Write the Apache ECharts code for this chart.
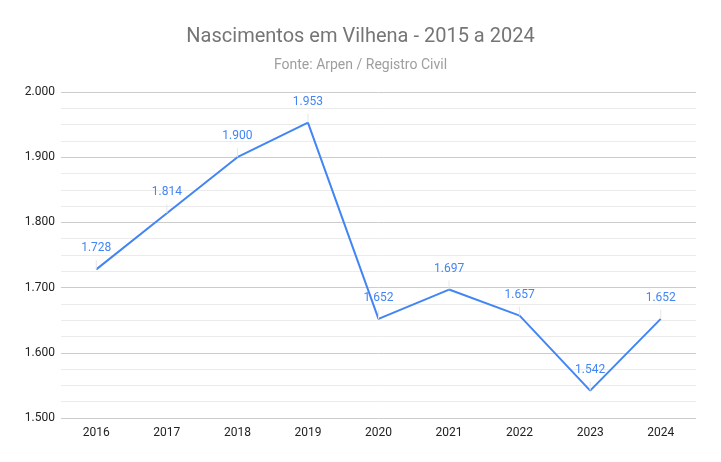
<!DOCTYPE html>
<html><head><meta charset="utf-8">
<script src="https://cdn.jsdelivr.net/npm/echarts@6/dist/echarts.min.js"></script>
<style>html,body{margin:0;padding:0;background:#fff}#c{width:721px;height:462px}</style>
</head><body><div id="c"></div>
<script>
const categories = ['2016','2017','2018','2019','2020','2021','2022','2023','2024'];
const births = [1728, 1814, 1900, 1953, 1652, 1697, 1657, 1542, 1652];
const titleText = 'Nascimentos em Vilhena - 2015 a 2024';
const subtitleText = 'Fonte: Arpen / Registro Civil';
const fmt = v => (v/1000).toFixed(3);
const chart = echarts.init(document.getElementById('c'), null, {renderer:'canvas'});
chart.setOption({
  animation:false,
  backgroundColor:'#fff',
  title:{
    text:titleText, subtext:subtitleText, left:'center', top:22, itemGap:11,
    textStyle:{fontFamily:'Roboto', fontSize:20, fontWeight:'normal', color:'#757575'},
    subtextStyle:{fontFamily:'Roboto', fontSize:14, color:'#9e9e9e'}
  },
  grid:{left:61, right:25, top:92, bottom:44, containLabel:false},
  xAxis:{
    type:'category', data:categories, boundaryGap:true,
    axisLine:{show:false}, axisTick:{show:false},
    axisLabel:{fontFamily:'Roboto', fontSize:12, color:'#222', margin:9}
  },
  yAxis:{
    type:'value', min:1500, max:2000, interval:100,
    axisLine:{show:false}, axisTick:{show:false},
    axisLabel:{fontFamily:'Roboto', fontSize:12, color:'#222', margin:6, formatter:fmt},
    splitLine:{lineStyle:{color:'#cccccc', width:1}},
    minorTick:{show:false, splitNumber:4},
    minorSplitLine:{show:true, lineStyle:{color:'#ebebeb', width:1}}
  },
  series:[{
    type:'line', data:births, showSymbol:true, symbol:'circle', symbolSize:0.1,
    lineStyle:{color:'#4285f4', width:2}, itemStyle:{color:'#4285f4'},
    label:{show:true, position:'top', distance:15, formatter:p=>fmt(p.value),
      fontFamily:'Roboto', fontSize:12, color:'#4285f4'},
    labelLine:{show:true, lineStyle:{color:'#e6e6e6', width:1}}
  }]
});
</script></body></html>
